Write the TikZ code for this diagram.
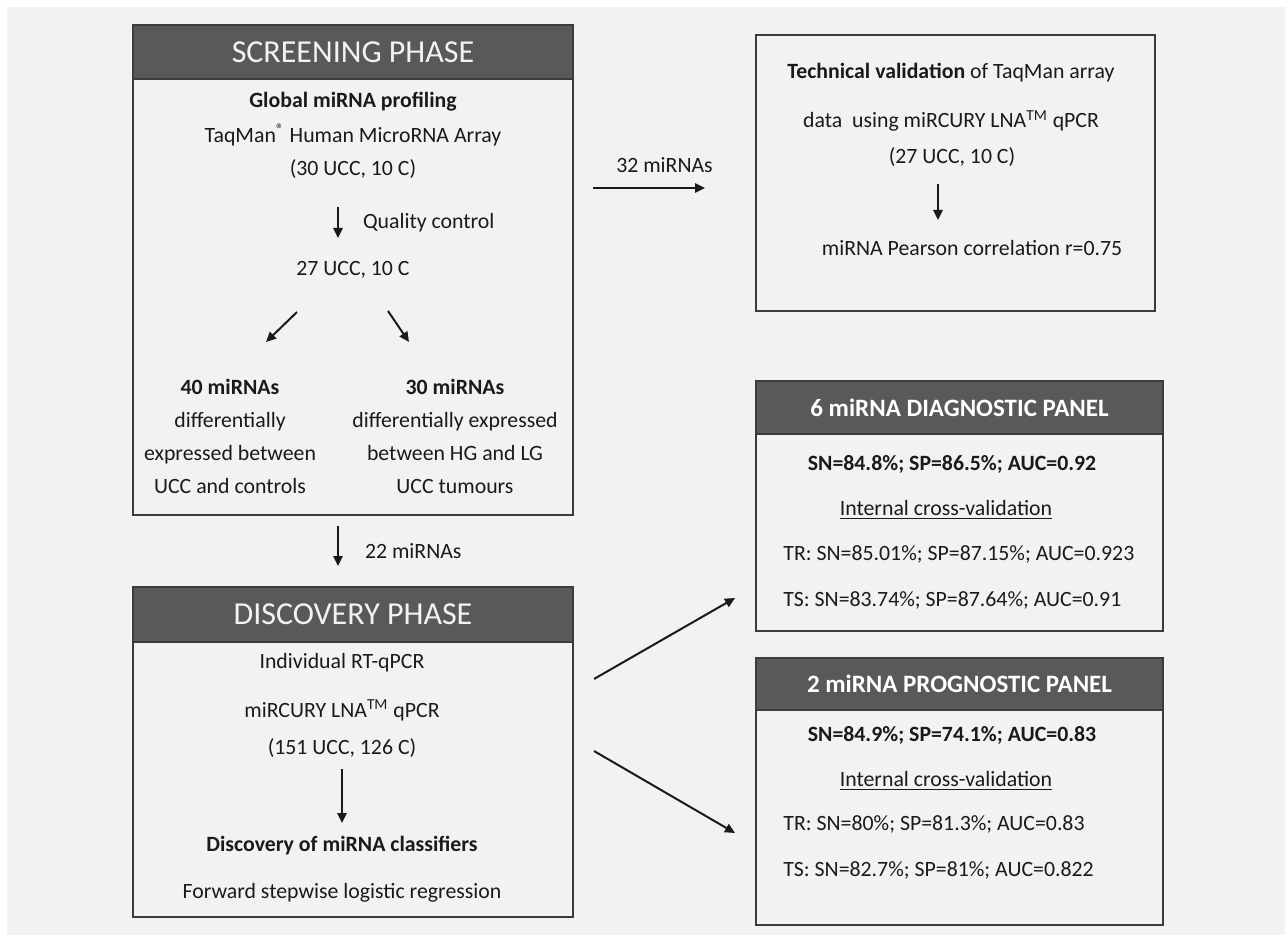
\documentclass[tikz,border=0pt]{standalone}
\usepackage{fontspec}
\setmainfont{Carlito}
\usetikzlibrary{arrows.meta,positioning}
\definecolor{panelGrey}{HTML}{595959}
\definecolor{paperGrey}{HTML}{F2F2F2}
\definecolor{inkDark}{HTML}{1A1A1A}
\tikzset{
  phasebox/.style={draw=inkDark!85,line width=1pt,fill=paperGrey,inner sep=0pt},
  phasehead/.style={draw=inkDark!85,line width=1pt,fill=panelGrey,text=paperGrey,inner sep=0pt,
    minimum height=27pt,font=\fontsize{16}{18}\selectfont},
  panelhead/.style={draw=inkDark!85,line width=1pt,fill=panelGrey,text=white,inner sep=0pt,
    minimum width=203.5pt,font=\fontsize{12.5}{15}\selectfont\bfseries},
  txt/.style={font=\fontsize{10.9}{13}\selectfont,text=inkDark,inner sep=2pt},
  boldtxt/.style={txt,font=\fontsize{10.9}{13}\selectfont\bfseries},
  coltxt/.style={txt,align=center,font=\fontsize{10.9}{16.5}\selectfont},
  flow/.style={-{Triangle[length=5pt,width=4.6pt]},line width=1pt,inkDark}
}

\begin{document}
\begin{tikzpicture}[x=0.5pt,y=-0.5pt]
  % one unit is one pixel of the 1285 x 935 layout, y running down
  \useasboundingbox (0,0) rectangle (1285,935);
  \fill[paperGrey] (7,7) rectangle (1285,935);

  % screening phase
  \node[phasebox,minimum width=220pt,minimum height=245pt] (scr) at (353,270) {};
  \node[phasehead,minimum width=220pt] (scrhead) at (353,52) {SCREENING PHASE};
  \node[boldtxt] (glob) at (353,102) {Global miRNA profiling};
  \node[txt] (taq) at (353,135) {TaqMan\textsuperscript{®} Human MicroRNA Array};
  \node[txt] (scr30) at (353,169) {(30 UCC, 10 C)};
  \node[txt] (scr27) at (353,270) {27 UCC, 10 C};
  \node[coltxt] (ctrl) at (230,436) {\textbf{40 miRNAs}\\differentially\\expressed between\\UCC and controls};
  \node[coltxt] (grade) at (455,436) {\textbf{30 miRNAs}\\differentially expressed\\between HG and LG\\UCC tumours};

  \draw[flow] ([shift={(-15,38)}]scr30.center) -- node[txt,right=10pt] (qc) {Quality control}
       ([shift={(-15,-32)}]scr27.center);
  \draw[flow] ([shift={(-56,42)}]scr27.center) -- ([shift={(36,-94)}]ctrl.center);
  \draw[flow] ([shift={(35,41)}]scr27.center) -- ([shift={(-46,-94)}]grade.center);

  % discovery phase
  \node[phasebox,minimum width=220pt,minimum height=165pt] (disc) at (353,752) {};
  \node[phasehead,minimum width=220pt,minimum height=27.5pt] (dischead) at (353,614.5) {DISCOVERY PHASE};
  \node[txt] (indiv) at (342,663) {Individual RT-qPCR};
  \node[txt] (lna) at (342,710) {miRCURY LNA\textsuperscript{TM} qPCR};
  \node[txt] (disc151) at (342,748) {(151 UCC, 126 C)};
  \node[boldtxt] (classif) at (342,846) {Discovery of miRNA classifiers};
  \node[txt] (fwd) at (342,893) {Forward stepwise logistic regression};
  \draw[flow] ([shift={(0,21)}]disc151.center) -- ([shift={(0,-23)}]classif.center);

  \draw[flow,shorten <=5pt,shorten >=10pt] ([xshift=-7.5pt]scr.south) -- node[txt,right=11pt] (n22) {22 miRNAs}
       ([xshift=-7.5pt]disc.north);

  % technical validation
  \node[phasebox,minimum width=199.5pt,minimum height=138pt] (tech) at (955.5,173) {};
  \node[txt] (tech1) at (951,73) {\textbf{Technical validation} of TaqMan array};
  \node[txt] (tech2) at (951,121) {data\ \ using miRCURY LNA\textsuperscript{TM} qPCR};
  \node[txt] (tech27) at (952,157) {(27 UCC, 10 C)};
  \node[txt] (pearson) at (972,248) {miRNA Pearson correlation r=0.75};
  \draw[flow] ([shift={(-14,27)}]tech27.center) -- ([shift={(-34,-28)}]pearson.center);

  \coordinate (m32) at ([yshift=41pt]scr.east);
  \draw[flow,shorten <=9.5pt,shorten >=25pt] (m32) -- node[txt,above=5pt] (n32) {32 miRNAs} (m32 -| tech.west);

  % diagnostic panel
  \node[phasebox,minimum width=203.5pt,minimum height=125pt] (diag) at (959.5,506) {};
  \node[panelhead,minimum height=26.5pt] (diaghead) at (959.5,407.5) {6 miRNA DIAGNOSTIC PANEL};
  \node[boldtxt] (diagsn) at (952,464) {SN=84.8\%; SP=86.5\%; AUC=0.92};
  \node[txt] (diagcv) at (946,510) {\underline{Internal cross-validation}};
  \node[txt,anchor=west] (diagtr) at (779,554) {TR: SN=85.01\%; SP=87.15\%; AUC=0.923};
  \node[txt,anchor=west] (diagts) at (779,600) {TS: SN=83.74\%; SP=87.64\%; AUC=0.91};

  % prognostic panel
  \node[phasebox,minimum width=203.5pt,minimum height=133.5pt] (prog) at (959.5,791.5) {};
  \node[panelhead,minimum height=26pt] (proghead) at (959.5,684) {2 miRNA PROGNOSTIC PANEL};
  \node[boldtxt] (progsn) at (952,735) {SN=84.9\%; SP=74.1\%; AUC=0.83};
  \node[txt] (progcv) at (946,781) {\underline{Internal cross-validation}};
  \node[txt,anchor=west] (progtr) at (779,824) {TR: SN=80\%; SP=81.3\%; AUC=0.83};
  \node[txt,anchor=west] (progts) at (779,870) {TS: SN=82.7\%; SP=81\%; AUC=0.822};

  \draw[flow] ([shift={(20,-73)}]disc.east) -- ([shift={(-20,92)}]diag.west);
  \draw[flow] ([shift={(20,-1)}]disc.east) -- ([shift={(-20,41.5)}]prog.west);
\end{tikzpicture}
\end{document}
